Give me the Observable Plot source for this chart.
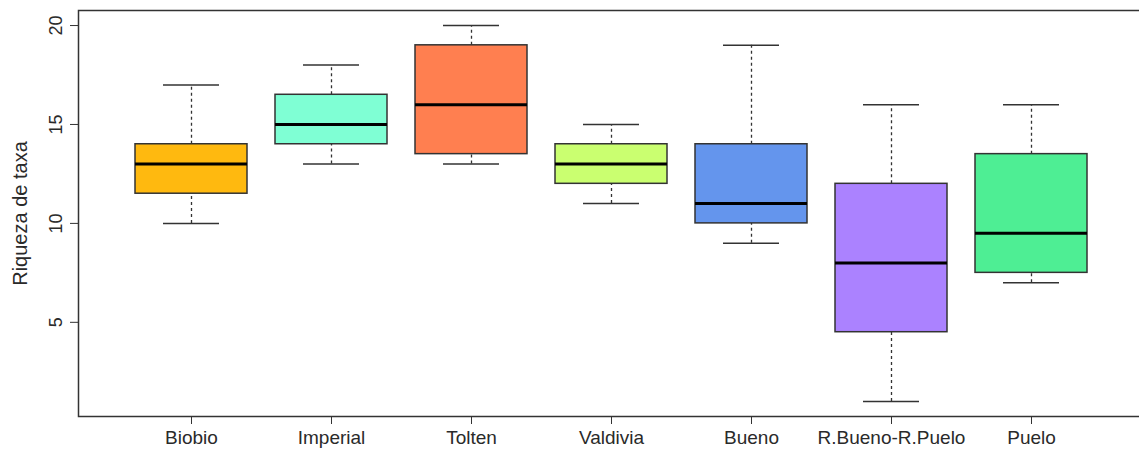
<!DOCTYPE html>
<html>
<head>
<meta charset="utf-8">
<script src="https://cdn.jsdelivr.net/npm/d3@7"></script>
<script src="https://cdn.jsdelivr.net/npm/@observablehq/plot@0.6"></script>
<style>
  html, body { margin: 0; padding: 0; background: #fff; overflow: hidden; }
  #chart svg { display: block; }
</style>
</head>
<body>
<div id="chart"></div>
<script>
// Taxa richness per river basin: five-number summaries for each box
const regions = ["Biobio", "Imperial", "Tolten", "Valdivia", "Bueno", "R.Bueno-R.Puelo", "Puelo"];
const lowerWhisker = [10, 13, 13, 11, 9, 1, 7];
const q1 = [11.5, 14, 13.5, 12, 10, 4.5, 7.5];
const median = [13, 15, 16, 13, 11, 8, 9.5];
const q3 = [14, 16.5, 19, 14, 14, 12, 13.5];
const upperWhisker = [17, 18, 20, 15, 19, 16, 16];
const boxColors = ["#FFB90F", "#7FFFD4", "#FF7F50", "#CAFF70", "#6495ED", "#AB82FF", "#4EEE94"];
const yTicks = [5, 10, 15, 20];

const rows = regions.map((region, i) => ({
  region,
  lo: lowerWhisker[i],
  q1: q1[i],
  med: median[i],
  q3: q3[i],
  hi: upperWhisker[i],
  color: boxColors[i]
}));

const capInset = 28;
const ink = "#333";

const chart = Plot.plot({
  width: 1139,
  height: 449,
  marginLeft: 78,
  marginRight: -4,
  marginTop: 10,
  marginBottom: 33,
  style: { fontFamily: "'Liberation Sans', Arial, sans-serif", color: "#2a2a2a", background: "#fff" },
  x: { type: "band", domain: regions, paddingInner: 0.2, paddingOuter: 0.385 },
  y: { domain: [0.24, 20.76] },
  marks: [
    // whiskers (dashed) from box edges to caps
    Plot.ruleX(rows, { x: "region", y1: "lo", y2: "q1", stroke: ink, strokeWidth: 1.3, strokeDasharray: "3,3" }),
    Plot.ruleX(rows, { x: "region", y1: "q3", y2: "hi", stroke: ink, strokeWidth: 1.3, strokeDasharray: "3,3" }),
    // whisker caps
    Plot.tickY(rows, { x: "region", y: "lo", stroke: ink, strokeWidth: 1.5, insetLeft: capInset, insetRight: capInset }),
    Plot.tickY(rows, { x: "region", y: "hi", stroke: ink, strokeWidth: 1.5, insetLeft: capInset, insetRight: capInset }),
    // interquartile boxes
    Plot.barY(rows, { x: "region", y1: "q1", y2: "q3", fill: "color", stroke: ink, strokeWidth: 1.5 }),
    // medians
    Plot.tickY(rows, { x: "region", y: "med", stroke: "#000", strokeWidth: 3 }),
    // axes
    Plot.axisX({ tickSize: 8, tickPadding: 6, fontSize: 19, label: null, stroke: ink }),
    Plot.axisY({
      ticks: yTicks, tickSize: 8, tickPadding: 9, tickRotate: -90, fontSize: 18, stroke: ink,
      label: "Riqueza de taxa", labelAnchor: "center", labelArrow: "none", labelOffset: 66
    }),
    Plot.frame({ stroke: ink, strokeWidth: 1.5 })
  ]
});

// axis label font size
d3.select(chart).selectAll("g[aria-label='y-axis label'] text").attr("font-size", 20);

document.getElementById("chart").appendChild(chart);
</script>
</body>
</html>
